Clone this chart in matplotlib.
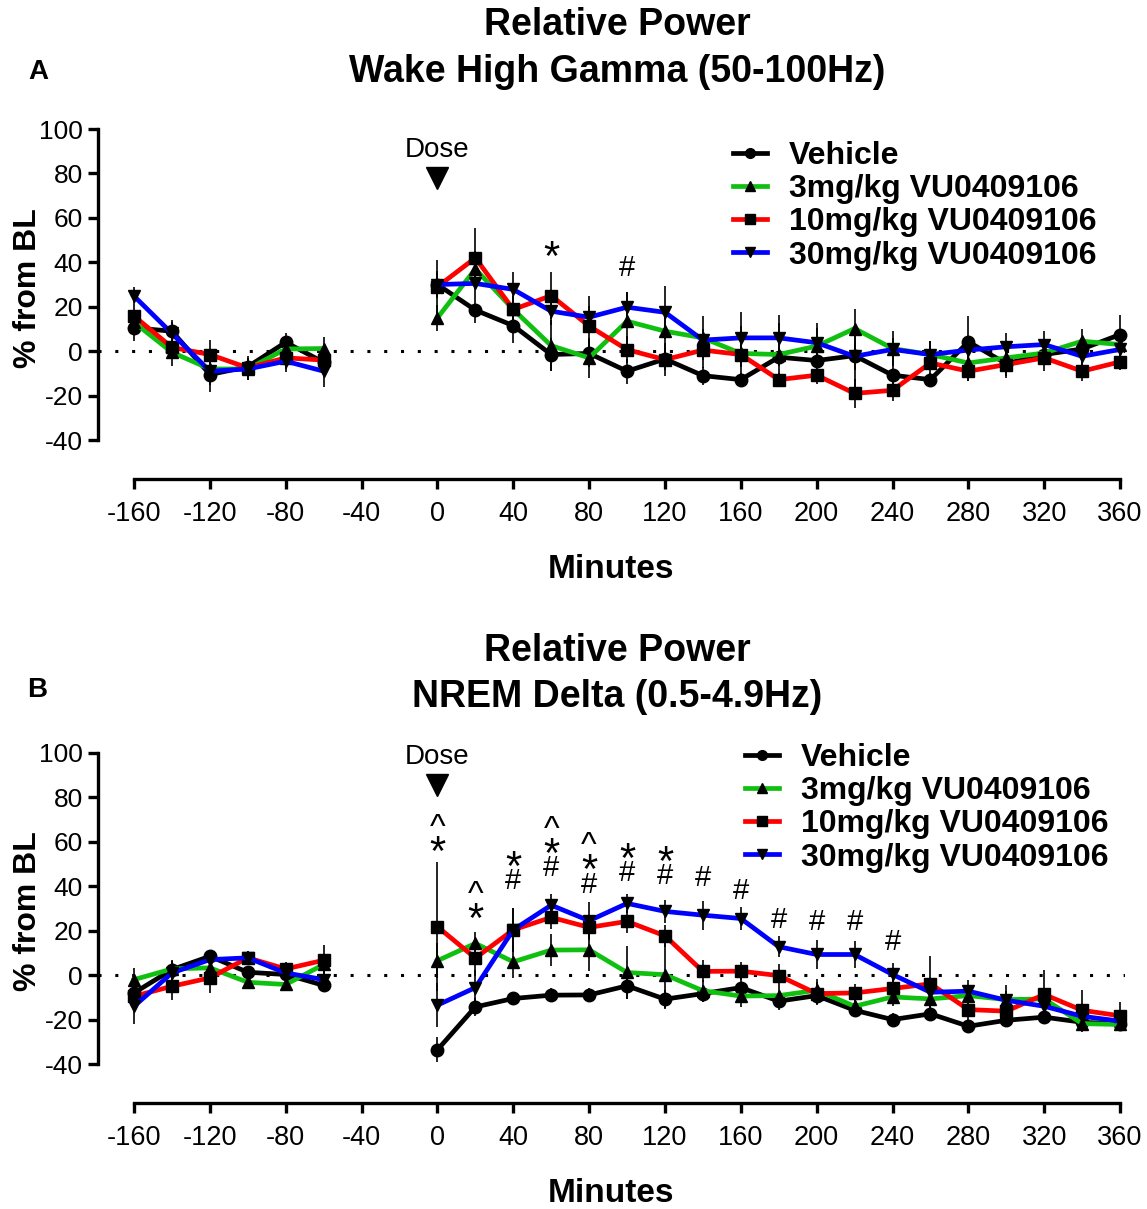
import matplotlib

matplotlib.use("Agg")
import matplotlib.pyplot as plt
from matplotlib.lines import Line2D

plt.rcParams["font.family"] = ["Liberation Sans", "DejaVu Sans"]
plt.rcParams["axes.unicode_minus"] = False

# time points (minutes)
x_pre = [-160, -140, -120, -100, -80, -60]
x_post = [0, 20, 40, 60, 80, 100, 120, 140, 160, 180, 200, 220, 240, 260, 280, 300, 320, 340, 360]

groups = ["Vehicle", "3mg/kg VU0409106", "10mg/kg VU0409106", "30mg/kg VU0409106"]
colors = ["black", "#10c010", "#ff0000", "#0000ff"]
markers = ["o", "^", "s", "v"]

# Panel A: Wake high gamma (50-100Hz), % from BL
gamma_pre = [
    [10.5, 9, -10.5, -7, 4, -5],
    [13, -0.5, -8, -8, 1, 1.2],
    [15.8, 1.7, -1.5, -7.5, -3, -4],
    [24.8, 8, -9, -8, -4.5, -9],
]
gamma_post = [
    [30, 18.5, 11.5, -1.5, -1, -9, -3.5, -11, -12.8, -2.7, -4.2, -2, -10.8, -12.8, 4.2, -5.6, -1.5, 1, 7.5],
    [15, 37, 18.8, 2.5, -3, 13.5, 9, 6, -1, -1.5, 2.3, 10.2, 1.2, -1.5, -5.3, -3, -0.8, 4.5, 3],
    [29, 42, 18.8, 25, 11.3, 0.7, -3.8, 0.5, -1.5, -12.8, -10.8, -19, -17.6, -5.3, -9, -6, -3, -9, -4.8],
    [30, 30.5, 27.8, 18, 15.3, 19.8, 17.5, 5, 6, 6, 3.8, -2.3, 0.8, -1.5, 0.5, 2, 3, -2.3, 0.8],
]
gamma_pre_sem = [
    [6, 5, 8, 5, 4, 5],
    [5, 6, 5, 5, 4, 5],
    [5, 5, 6.5, 4, 5, 5],
    [4, 5, 6, 5, 5, 7],
]
gamma_post_sem = [
    [6, 6, 7.7, 7.5, 6, 5.7, 5, 4, 3, 4, 5, 14, 7, 3, 11.6, 6.4, 4, 5, 9],
    [6, 8, 6, 11.5, 9, 13, 10, 10, 6, 14, 8, 9, 8, 6, 8, 5, 5, 5.5, 5],
    [12, 13.5, 6, 10.6, 13.5, 6, 7.5, 8, 13, 3, 4, 6.5, 5, 10, 4.5, 5, 6, 4.5, 3.5],
    [5, 6, 8, 6, 5, 7, 11.8, 5, 11.6, 10.5, 9, 6, 5, 4, 5, 6, 6, 8, 5],
]

# Panel B: NREM delta (0.5-4.9Hz), % from BL
delta_pre = [
    [-8, 2.5, 8.5, 1.3, 0.3, -4.6],
    [-2, 2.8, 3.3, -3.2, -4.2, 4.8],
    [-9.5, -5, -1.2, 7.8, 2.8, 6.7],
    [-14, 1, 7, 7.8, 1, -2],
]
delta_post = [
    [-33.6, -14.3, -10.5, -9, -8.9, -4.8, -10.8, -8.3, -5.6, -11.7, -9.2, -15.8, -20, -17.4, -23, -20.3, -18.9, -21.2, -21.9],
    [6.5, 14.3, 6, 11.3, 11.4, 1.2, 0.2, -7, -9.4, -9.2, -6.8, -14, -9.8, -10.7, -9.2, -11, -10.7, -21.8, -22.2],
    [21.8, 7.7, 20.4, 26, 21.5, 24.2, 17.7, 1.7, 1.8, -0.2, -8.3, -8, -6, -3.9, -15.5, -16.2, -8.7, -15.8, -18.3],
    [-13.5, -5.6, 20.4, 31.5, 24.5, 32.3, 28.7, 27, 25.5, 12.8, 9.3, 9.3, 0.3, -7.7, -7.2, -11.3, -14, -18.5, -20.7],
]
delta_pre_sem = [
    [5, 4, 3, 3, 3, 3],
    [5, 4, 4, 3, 3, 4],
    [6, 6, 7, 3, 3, 7],
    [8, 4, 3, 3, 3, 4],
]
delta_post_sem = [
    [5.7, 4, 3, 3, 3, 6, 4, 4, 5, 4, 4, 3, 3, 3, 3, 3, 3, 3, 3],
    [8, 5, 7.5, 7.3, 9.4, 12, 15.5, 5, 5, 4, 5, 4, 4, 5, 4, 4, 4, 4, 3],
    [29, 8, 10, 5, 5, 5, 5, 5, 4, 5, 5, 4, 5, 12.5, 5, 5, 11, 9, 6],
    [10, 8, 10, 5, 8.5, 4.2, 5.3, 6.5, 5, 4.8, 6.7, 6, 5.2, 5, 5, 7, 5, 5, 4],
]

# significance marks: x, symbols stacked bottom->top, y of lowest symbol
sigA_x = [60, 100]
sigA_sym = ["*", "#"]
sigA_y = [45.8, 37.6]
sigB_x = [0, 20, 40, 60, 80, 100, 120, 140, 160, 180, 200, 220, 240]
sigB_sym = ["*^", "*^", "#*", "#*^", "#*^", "#*", "#*", "#", "#", "#", "#", "#", "#"]
sigB_y = [59, 28.7, 42.3, 48.3, 40.8, 46, 44.5, 43.8, 37.8, 25, 23.8, 23.8, 14.8]

# "Dose" label / arrow heights per panel
doseA = (90.5, 78)
doseB = (98.4, 85.8)

sym_size = {"*": 30, "^": 24, "#": 21}
sym_off = {"*": -4.5, "^": -3.0, "#": 0}


def draw_panel(ax, pre, post, pre_sem, post_sem, sig_x, sig_sym, sig_y, dose, legend_xy):
    ax.axhline(0, color="black", lw=2.2, ls=(0, (1, 4.5)), zorder=1)
    for i in range(len(groups)):
        for xs, ys, es in [(x_pre, pre[i], pre_sem[i]), (x_post, post[i], post_sem[i])]:
            ax.errorbar(xs, ys, yerr=es, fmt="none", ecolor="black", elinewidth=1.2,
                        capsize=0, zorder=2 + i, clip_on=False)
            ax.plot(xs, ys, color=colors[i], lw=3.4, zorder=3 + i, clip_on=False)
            ax.plot(xs, ys, ls="none", marker=markers[i], color="black", ms=9,
                    zorder=3 + i, clip_on=False)

    # dose marker
    ax.plot([0], [dose[1]], marker="v", color="black", ms=16, clip_on=False)
    ax.text(0, dose[0], "Dose", ha="center", va="center", fontsize=20)

    for x, sym, y in zip(sig_x, sig_sym, sig_y):
        for k, s in enumerate(sym):
            ax.text(x, y + 10 * k + sym_off[s], s, ha="center", va="center",
                    fontsize=sym_size[s])

    ax.set_xlim(-179, 362.6)
    ax.set_ylim(-40, 100)
    ax.set_xticks(range(-160, 361, 40))
    ax.set_yticks(range(-40, 101, 20))
    ax.spines["top"].set_visible(False)
    ax.spines["right"].set_visible(False)
    ax.spines["left"].set_bounds(-40, 100)
    ax.spines["bottom"].set_bounds(-160, 360)
    ax.spines["bottom"].set_position(("outward", 28))
    for sp in ["left", "bottom"]:
        ax.spines[sp].set_linewidth(2.4)
    ax.tick_params(axis="both", width=2.4, length=7, labelsize=19)
    ax.tick_params(axis="x", pad=9, labelsize=19.5)
    ax.tick_params(axis="y", pad=4)
    ax.set_ylabel("% from BL", fontsize=23, fontweight="bold")
    ax.yaxis.set_label_coords(-0.054, 0.49)
    ax.set_xlabel("Minutes", fontsize=24, fontweight="bold", labelpad=19)

    handles = [Line2D([], [], color=c, lw=3.4, marker=m, markerfacecolor="black",
                      markeredgecolor="black", ms=7) for c, m in zip(colors, markers)]
    ax.legend(handles, groups, loc="upper left", bbox_to_anchor=legend_xy,
              bbox_transform=ax.figure.transFigure, frameon=False,
              prop={"size": 23, "weight": "bold"}, handlelength=1.05,
              handletextpad=0.7, labelspacing=0.1, borderpad=0, borderaxespad=0)


fig = plt.figure(figsize=(11.47, 12.09), dpi=100)
axA = fig.add_axes([98 / 1147, 0.636, 1027 / 1147, 0.2573])
axB = fig.add_axes([98 / 1147, 0.1199, 1027 / 1147, 0.2573])

draw_panel(axA, gamma_pre, gamma_post, gamma_pre_sem, gamma_post_sem,
           sigA_x, sigA_sym, sigA_y, doseA, (733 / 1147, 1 - 141 / 1209))
draw_panel(axB, delta_pre, delta_post, delta_pre_sem, delta_post_sem,
           sigB_x, sigB_sym, sigB_y, doseB, (745 / 1147, 1 - 743 / 1209))

title_kw = dict(ha="center", va="center", fontsize=27, fontweight="bold")
fig.text(617 / 1147, 1 - 25 / 1209, "Relative Power", **title_kw)
fig.text(617 / 1147, 1 - 72 / 1209, "Wake High Gamma (50-100Hz)", **title_kw)
fig.text(617 / 1147, 1 - 651 / 1209, "Relative Power", **title_kw)
fig.text(617 / 1147, 1 - 697 / 1209, "NREM Delta (0.5-4.9Hz)", **title_kw)
fig.text(38 / 1147, 1 - 72 / 1209, "A", ha="center", va="center", fontsize=20, fontweight="bold")
fig.text(37 / 1147, 1 - 690 / 1209, "B", ha="center", va="center", fontsize=20, fontweight="bold")

fig.savefig("out.png", dpi=100)
